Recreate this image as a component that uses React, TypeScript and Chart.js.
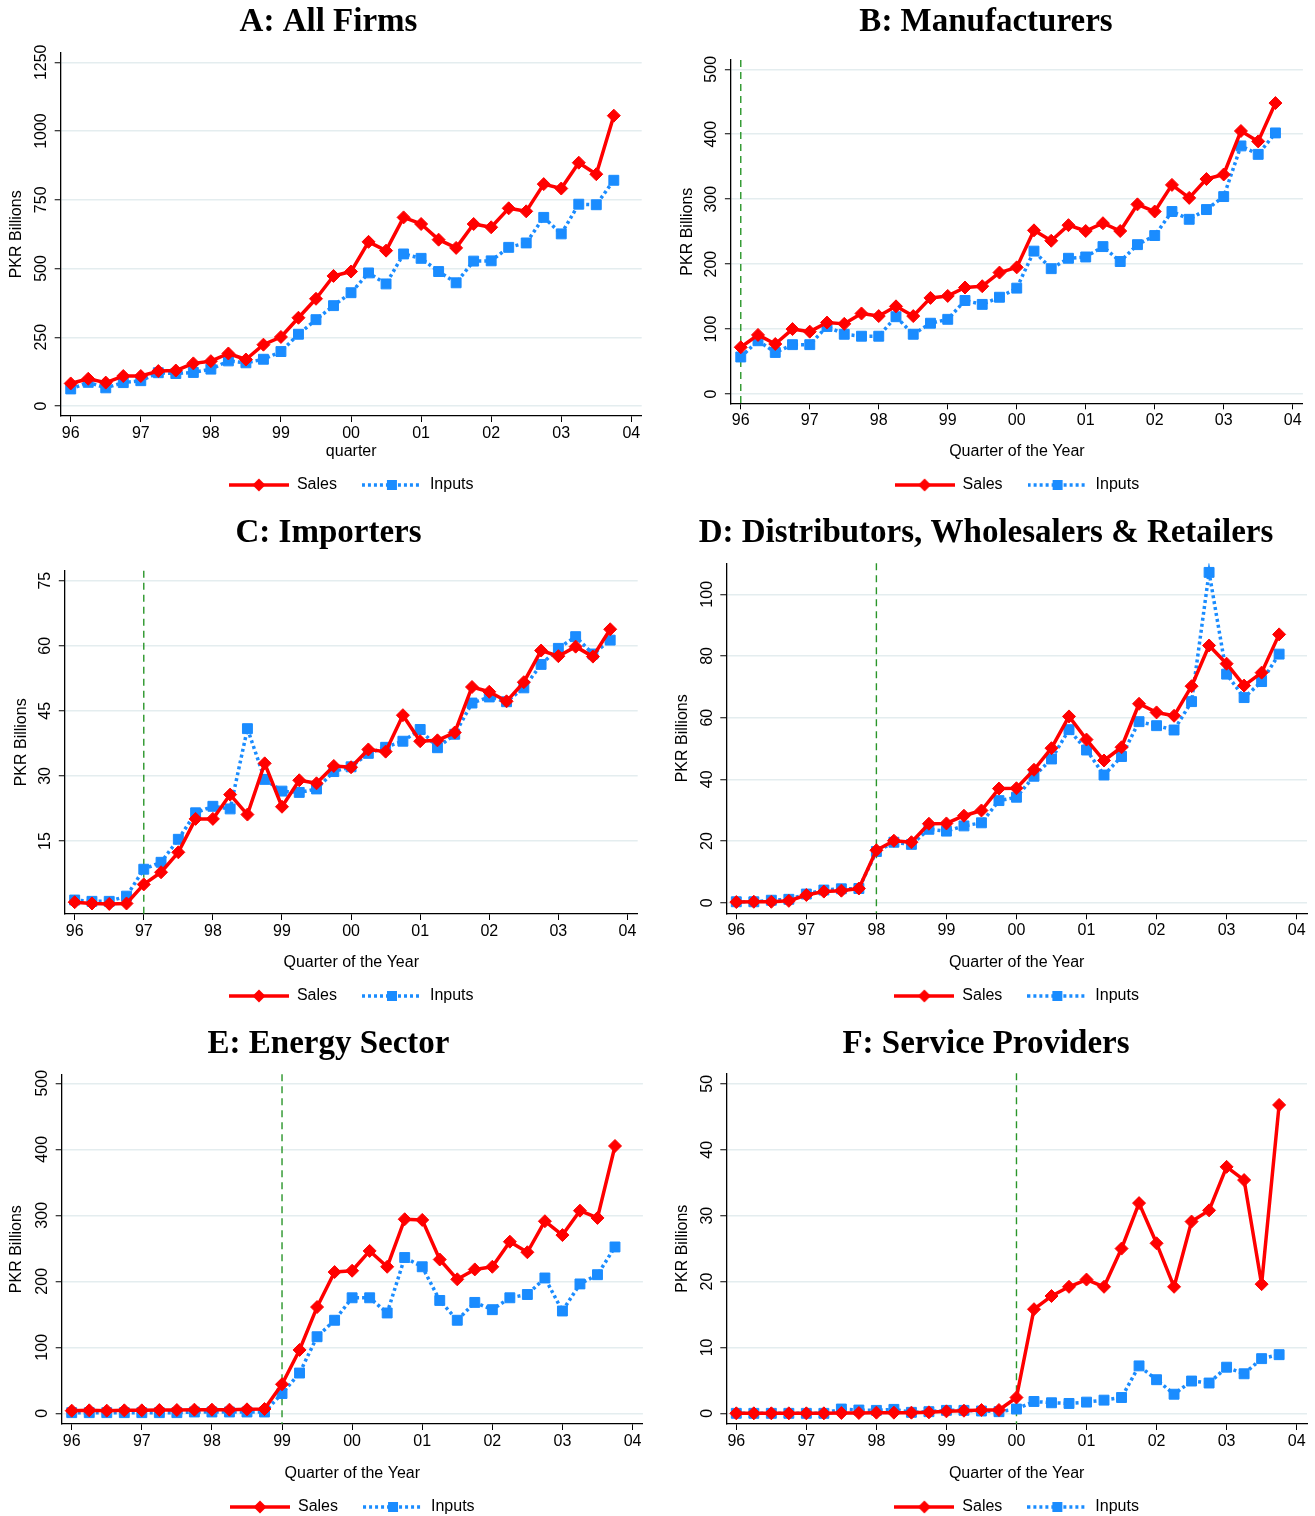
import { useEffect, useRef } from "react"
import { Chart, registerables } from "chart.js"

Chart.register(...registerables)

// Trimestres de 1996 a 2003
const quarters = [
  1996, 1996.25, 1996.5, 1996.75, 1997, 1997.25, 1997.5, 1997.75,
  1998, 1998.25, 1998.5, 1998.75, 1999, 1999.25, 1999.5, 1999.75,
  2000, 2000.25, 2000.5, 2000.75, 2001, 2001.25, 2001.5, 2001.75,
  2002, 2002.25, 2002.5, 2002.75, 2003, 2003.25, 2003.5, 2003.75,
]
const yearTicks = [1996, 1997, 1998, 1999, 2000, 2001, 2002, 2003, 2004]
const yearLabels = ["96", "97", "98", "99", "00", "01", "02", "03", "04"]

// A: All Firms
const salesA = [82, 99, 85, 109, 109, 127, 129, 155, 163, 191, 169, 223, 251, 321, 390, 473, 489, 597, 565, 686, 662, 605, 575, 662, 650, 719, 708, 807, 791, 885, 843, 1056]
const inputsA = [62, 86, 66, 85, 92, 121, 118, 122, 134, 164, 157, 170, 198, 261, 314, 365, 412, 484, 444, 553, 537, 489, 448, 527, 528, 577, 593, 686, 626, 734, 732, 821]
const yTicksA = [0, 250, 500, 750, 1000, 1250]

// B: Manufacturers
const salesB = [72, 91, 77, 100, 96, 110, 108, 124, 120, 135, 120, 148, 151, 164, 166, 187, 195, 252, 236, 260, 251, 263, 251, 292, 281, 322, 302, 331, 338, 405, 389, 448]
const inputsB = [57, 82, 64, 76, 76, 104, 92, 89, 89, 119, 92, 109, 115, 144, 138, 149, 163, 220, 193, 209, 211, 227, 204, 230, 244, 281, 269, 284, 304, 382, 369, 402]
const yTicksB = [0, 100, 200, 300, 400, 500]

// C: Importers
const salesC = [0.9, 0.6, 0.5, 0.6, 5.0, 7.8, 12.4, 20.1, 20.1, 25.7, 21.1, 32.9, 22.9, 29.0, 28.3, 32.3, 32.0, 36.1, 35.6, 44.0, 38.0, 38.2, 40.0, 50.5, 49.4, 47.2, 51.6, 58.9, 57.6, 59.8, 57.5, 63.8]
const inputsC = [1.4, 1.1, 1.1, 2.3, 8.5, 10.1, 15.4, 21.5, 23.0, 22.4, 40.9, 29.2, 26.5, 26.2, 27.0, 31.0, 32.1, 35.2, 36.6, 38.0, 40.7, 36.5, 39.6, 46.8, 48.2, 47.1, 50.3, 55.7, 59.4, 62.1, 58.1, 61.3]
const yTicksC = [15, 30, 45, 60, 75]

// D: Distributors, Wholesalers & Retailers
const salesD = [0.2, 0.3, 0.3, 0.6, 2.5, 3.6, 3.9, 4.6, 17.0, 20.1, 19.6, 25.6, 25.7, 28.2, 29.9, 37.0, 37.1, 43.1, 50.1, 60.4, 52.9, 46.1, 50.4, 64.5, 61.7, 60.6, 70.2, 83.4, 77.5, 70.4, 74.6, 87.0]
const inputsD = [0.3, 0.3, 0.8, 1.1, 2.8, 4.1, 4.5, 4.6, 16.6, 19.6, 18.9, 23.8, 23.2, 24.9, 25.9, 33.1, 34.2, 41.0, 46.6, 56.1, 49.5, 41.4, 47.4, 58.7, 57.4, 56.0, 65.2, 107.1, 74.1, 66.5, 71.7, 80.6]
const yTicksD = [0, 20, 40, 60, 80, 100]

// E: Energy Sector
const salesE = [4, 4.5, 4, 4.5, 4.5, 5, 5, 5.5, 5.5, 5.5, 6, 6.5, 44, 96, 161, 214, 216, 246, 222, 294, 293, 233, 203, 218, 222, 260, 244, 291, 270, 307, 296, 405]
const inputsE = [1, 1, 1, 1, 1, 1, 1, 2, 2, 2, 2, 2, 30, 61, 116, 141, 175, 175, 152, 236, 222, 171, 141, 168, 157, 175, 180, 205, 155, 196, 210, 252]
const yTicksE = [0, 100, 200, 300, 400, 500]

// F: Service Providers
const salesF = [0, 0, 0, 0, 0, 0, 0.05, 0.05, 0.1, 0.1, 0.1, 0.15, 0.3, 0.4, 0.5, 0.5, 2.4, 15.8, 17.8, 19.2, 20.3, 19.2, 25.0, 31.9, 25.8, 19.2, 29.1, 30.8, 37.4, 35.4, 19.6, 46.8]
const inputsF = [0, 0, 0, 0, 0, 0, 0.65, 0.5, 0.45, 0.6, 0.15, 0.25, 0.45, 0.45, 0.35, 0.25, 0.65, 1.8, 1.6, 1.5, 1.7, 2.0, 2.4, 7.2, 5.1, 2.9, 4.9, 4.6, 7.0, 6.0, 8.3, 8.9]
const yTicksF = [0, 10, 20, 30, 40, 50]

const SANS = "'Liberation Sans', Arial, sans-serif"
const SERIF = "'Liberation Serif', 'Times New Roman', serif"
const RED = "#ff0000"
const BLUE = "#1a8cff"
const GREEN = "#2a962a"
const X_MIN = 1995.857
const X_MAX = 2004.148
const PANEL_H = 511
const LEGEND_TOP = 452

type Panel = {
  title: string
  xTitle: string
  sales: number[]
  inputs: number[]
  yTicks: number[]
  yMin: number
  yMax: number
  breakAt: number | null
  // posição do painel e da área do gráfico (px)
  x: number
  y: number
  w: number
  area: { left: number; right: number; top: number; bottom: number; yTitleX: number }
}

const panels: Panel[] = [
  { title: "A: All Firms", xTitle: "quarter", sales: salesA, inputs: inputsA, yTicks: yTicksA, yMin: -36.4, yMax: 1285, breakAt: null,
    x: 0, y: 0, w: 657, area: { left: 60.7, right: 641.7, top: 52.7, bottom: 416, yTitleX: 17 } },
  { title: "B: Manufacturers", xTitle: "Quarter of the Year", sales: salesB, inputs: inputsB, yTicks: yTicksB, yMin: -14.3, yMax: 514.3, breakAt: 1996,
    x: 657, y: 0, w: 658, area: { left: 73.9, right: 645.9, top: 60, bottom: 403.3, yTitleX: 31 } },
  { title: "C: Importers", xTitle: "Quarter of the Year", sales: salesC, inputs: inputsC, yTicks: yTicksC, yMin: -1.82, yMax: 77.3, breakAt: 1997,
    x: 0, y: 511, w: 657, area: { left: 64.8, right: 637.7, top: 59.7, bottom: 403, yTitleX: 22 } },
  { title: "D: Distributors, Wholesalers & Retailers", xTitle: "Quarter of the Year", sales: salesD, inputs: inputsD, yTicks: yTicksD, yMin: -3.44, yMax: 110.05, breakAt: 1998,
    x: 657, y: 511, w: 658, area: { left: 69.3, right: 651.3, top: 52.3, bottom: 402.3, yTitleX: 26 } },
  { title: "E: Energy Sector", xTitle: "Quarter of the Year", sales: salesE, inputs: inputsE, yTicks: yTicksE, yMin: -16.2, yMax: 513.6, breakAt: 1999,
    x: 0, y: 1022, w: 657, area: { left: 61.7, right: 642.9, top: 52.3, bottom: 402, yTitleX: 17 } },
  { title: "F: Service Providers", xTitle: "Quarter of the Year", sales: salesF, inputs: inputsF, yTicks: yTicksF, yMin: -1.62, yMax: 51.6, breakAt: 2000,
    x: 657, y: 1022, w: 658, area: { left: 69.3, right: 651.3, top: 51.3, bottom: 402, yTitleX: 26 } },
]

// Símbolo da legenda: linha com marcador no meio
function makeSymbol(kind: "sales" | "inputs") {
  const c = document.createElement("canvas")
  c.width = 60
  c.height = 16
  const g = c.getContext("2d")!
  g.lineWidth = 3.5
  if (kind === "sales") {
    g.strokeStyle = RED
    g.fillStyle = RED
  } else {
    g.strokeStyle = BLUE
    g.fillStyle = BLUE
    g.setLineDash([3, 3])
  }
  g.beginPath()
  g.moveTo(0, 8)
  g.lineTo(60, 8)
  g.stroke()
  g.setLineDash([])
  g.beginPath()
  if (kind === "sales") {
    g.moveTo(30, 1.5)
    g.lineTo(36.5, 8)
    g.lineTo(30, 14.5)
    g.lineTo(23.5, 8)
    g.closePath()
  } else {
    g.rect(25, 3, 10, 10)
  }
  g.fill()
  return c
}

function tickPadding(labels: number[]) {
  const g = document.createElement("canvas").getContext("2d")!
  g.font = `16px ${SANS}`
  const widest = Math.max(...labels.map((v) => g.measureText(String(v)).width))
  return 19 - 6 - widest / 2
}

function PanelChart({ p }: { p: Panel }) {
  const chartRef = useRef<HTMLCanvasElement>(null)

  useEffect(() => {
    if (!chartRef.current) return
    const ctx = chartRef.current.getContext("2d")
    if (!ctx) return
    const a = p.area
    const pad = p.w - a.right
    const salesSymbol = makeSymbol("sales")
    const inputsSymbol = makeSymbol("inputs")

    // linha vertical tracejada verde
    const breakLine = {
      id: "breakLine",
      beforeDatasetsDraw(chart: Chart) {
        if (p.breakAt === null) return
        const { top, bottom } = chart.chartArea
        const x = chart.scales.x.getPixelForValue(p.breakAt)
        const c = chart.ctx
        c.save()
        c.strokeStyle = GREEN
        c.lineWidth = 1.4
        c.setLineDash([7, 5])
        c.beginPath()
        c.moveTo(x, top)
        c.lineTo(x, bottom)
        c.stroke()
        c.restore()
      },
    }

    const chart = new Chart(ctx, {
      type: "line",
      data: {
        datasets: [
          {
            label: "Sales",
            data: p.sales.map((v, i) => ({ x: quarters[i], y: v })),
            borderColor: RED,
            backgroundColor: RED,
            borderWidth: 3.5,
            borderJoinStyle: "round",
            pointStyle: "rectRot",
            pointRadius: 6.5,
            pointBorderWidth: 1,
            pointBackgroundColor: RED,
            pointBorderColor: RED,
          },
          {
            label: "Inputs",
            data: p.inputs.map((v, i) => ({ x: quarters[i], y: v })),
            borderColor: BLUE,
            backgroundColor: BLUE,
            borderWidth: 3.5,
            borderDash: [3, 3],
            pointStyle: "rect",
            pointRadius: 7,
            pointBorderWidth: 1,
            pointBackgroundColor: BLUE,
            pointBorderColor: BLUE,
          },
        ],
      },
      options: {
        responsive: false,
        animation: false,
        events: [],
        layout: { padding: { left: pad, right: pad, top: 0, bottom: PANEL_H - LEGEND_TOP - 51 } },
        plugins: {
          title: {
            display: true,
            text: p.title,
            color: "#000",
            font: { family: SERIF, size: 33, weight: "bold", lineHeight: 1.2 },
            padding: { top: 2.5, bottom: a.top - 2.5 - 39.6 },
          },
          legend: {
            display: true,
            position: "bottom",
            fullSize: false,
            labels: {
              usePointStyle: true,
              pointStyleWidth: 60,
              boxHeight: 16,
              padding: 25,
              color: "#000",
              font: { family: SANS, size: 16 },
              generateLabels: () => [
                { text: "Sales", pointStyle: salesSymbol, fillStyle: RED, strokeStyle: RED, lineWidth: 0, hidden: false, datasetIndex: 0 },
                { text: "Inputs", pointStyle: inputsSymbol, fillStyle: BLUE, strokeStyle: BLUE, lineWidth: 0, hidden: false, datasetIndex: 1 },
              ],
            },
          },
          tooltip: { enabled: false },
        },
        scales: {
          x: {
            type: "linear",
            min: X_MIN,
            max: X_MAX,
            bounds: "data",
            afterBuildTicks: (s: any) => {
              s.ticks = yearTicks.map((v) => ({ value: v }))
            },
            afterFit: (s: any) => {
              s.height = LEGEND_TOP - a.bottom
              s.paddingLeft = 0
              s.paddingRight = 0
            },
            ticks: {
              autoSkip: false,
              maxRotation: 0,
              minRotation: 0,
              padding: 2,
              color: "#000",
              font: { family: SANS, size: 16 },
              callback: (_v: any, i: number) => yearLabels[i],
            },
            grid: { drawOnChartArea: false, drawTicks: true, tickLength: 6, tickColor: "#000", tickWidth: 1 },
            border: { display: true, color: "#000", width: 1.3 },
            title: {
              display: true,
              text: p.xTitle,
              color: "#000",
              font: { family: SANS, size: 16 },
              padding: { top: 0, bottom: -9.6 },
            },
          },
          y: {
            type: "linear",
            min: p.yMin,
            max: p.yMax,
            bounds: "data",
            afterBuildTicks: (s: any) => {
              s.ticks = p.yTicks.map((v) => ({ value: v }))
            },
            afterFit: (s: any) => {
              s.width = a.left - pad
              s.paddingTop = 0
              s.paddingBottom = 0
            },
            ticks: {
              crossAlign: "center",
              minRotation: 90,
              maxRotation: 90,
              padding: tickPadding(p.yTicks),
              color: "#000",
              font: { family: SANS, size: 16 },
              callback: (v: any) => String(v),
            },
            grid: { color: "#e4edef", lineWidth: 1.5, drawTicks: true, tickLength: 6, tickColor: "#000", tickWidth: 1 },
            border: { display: true, color: "#000", width: 1.3 },
            title: {
              display: true,
              text: "PKR Billions",
              color: "#000",
              font: { family: SANS, size: 16 },
              padding: { top: a.yTitleX - pad - 9.6, bottom: 0 },
            },
          },
        },
      },
      plugins: [breakLine],
    } as any)

    return () => {
      chart.destroy()
    }
  }, [p])

  return (
    <div style={{ position: "absolute", left: p.x, top: p.y, width: p.w, height: PANEL_H }}>
      <canvas ref={chartRef} width={p.w} height={PANEL_H}></canvas>
    </div>
  )
}

export default function App() {
  return (
    <div
      style={{
        position: "absolute",
        left: 0,
        top: 0,
        width: 1315,
        height: 1516,
        overflow: "hidden",
        background: "#fff",
      }}
    >
      {panels.map((p) => (
        <PanelChart key={p.title} p={p} />
      ))}
    </div>
  )
}
